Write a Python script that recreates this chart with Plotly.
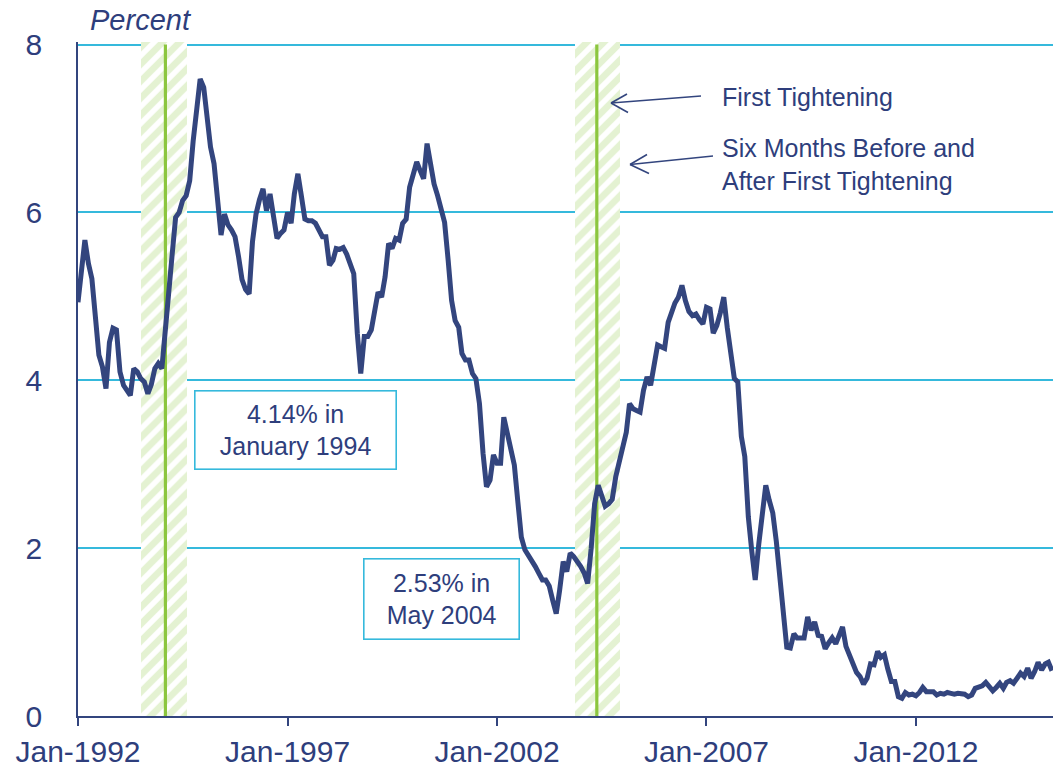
import pandas as pd
import plotly.graph_objects as go

# ---------------- data (monthly, percent) ----------------
start_month = "1992-01-01"
yield_pct = [
    # 1992
    4.93, 5.30, 5.67, 5.39, 5.21, 4.75, 4.30, 4.16, 3.90, 4.45, 4.62, 4.60,
    # 1993
    4.10, 3.94, 3.88, 3.82, 4.14, 4.10, 4.02, 3.98, 3.84, 3.95, 4.14, 4.20,
    # 1994
    4.14, 4.55, 5.03, 5.50, 5.94, 6.00, 6.14, 6.20, 6.38, 6.85, 7.25, 7.59,
    # 1995
    7.49, 7.10, 6.78, 6.58, 6.14, 5.73, 5.98, 5.85, 5.79, 5.71, 5.47, 5.20,
    # 1996
    5.08, 5.03, 5.65, 5.98, 6.15, 6.28, 6.02, 6.22, 5.95, 5.69, 5.75, 5.79,
    # 1997
    6.00, 5.87, 6.22, 6.46, 6.20, 5.92, 5.90, 5.90, 5.87, 5.78, 5.71, 5.71,
    # 1998
    5.37, 5.43, 5.57, 5.56, 5.58, 5.50, 5.40, 5.27, 4.56, 4.08, 4.52, 4.52,
    # 1999
    4.60, 4.80, 5.05, 4.99, 5.23, 5.63, 5.57, 5.69, 5.67, 5.87, 5.92, 6.30,
    # 2000
    6.45, 6.60, 6.50, 6.40, 6.82, 6.58, 6.34, 6.20, 6.04, 5.88, 5.43, 4.95,
    # 2001
    4.71, 4.63, 4.32, 4.24, 4.24, 4.08, 4.02, 3.72, 3.13, 2.73, 2.81, 3.11,
    # 2002
    3.01, 3.01, 3.56, 3.35, 3.20, 2.99, 2.56, 2.13, 1.98, 1.92, 1.85, 1.78,
    # 2003
    1.70, 1.62, 1.62, 1.55, 1.38, 1.22, 1.50, 1.84, 1.72, 1.94, 1.90, 1.85,
    # 2004
    1.78, 1.70, 1.58, 2.00, 2.53, 2.75, 2.60, 2.50, 2.53, 2.58, 2.85, 3.01,
    # 2005
    3.20, 3.38, 3.72, 3.66, 3.64, 3.62, 3.88, 4.04, 3.94, 4.20, 4.42, 4.40,
    # 2006
    4.38, 4.69, 4.80, 4.92, 4.99, 5.13, 4.95, 4.82, 4.77, 4.79, 4.72, 4.67,
    # 2007
    4.87, 4.85, 4.56, 4.65, 4.80, 4.99, 4.63, 4.28, 4.02, 3.98, 3.33, 3.09,
    # 2008
    2.37, 1.95, 1.62, 2.05, 2.45, 2.75, 2.57, 2.42, 2.08, 1.65, 1.25, 0.82,
    # 2009
    0.81, 0.98, 0.93, 0.93, 0.93, 1.18, 1.02, 1.12, 0.96, 0.95, 0.80, 0.87,
    # 2010
    0.93, 0.86, 0.96, 1.06, 0.83, 0.72, 0.62, 0.52, 0.47, 0.38, 0.45, 0.62,
    # 2011
    0.61, 0.77, 0.70, 0.73, 0.56, 0.41, 0.41, 0.23, 0.21, 0.28, 0.25, 0.26,
    # 2012
    0.24, 0.28, 0.34, 0.29, 0.29, 0.29, 0.25, 0.27, 0.26, 0.28, 0.27, 0.26,
    # 2013
    0.27, 0.27, 0.26, 0.23, 0.25, 0.33, 0.34, 0.36, 0.40, 0.34, 0.30, 0.34,
    # 2014
    0.39, 0.33, 0.40, 0.42, 0.39, 0.45, 0.51, 0.47, 0.57, 0.45, 0.53, 0.64,
    # 2015
    0.55, 0.62, 0.64, 0.54,
]
months = pd.date_range(start_month, periods=len(yield_pct), freq="MS")

tightening_dates = ["1994-02-01", "2004-05-20"]
band_starts = ["1993-07-01", "2003-11-10"]
band_ends = ["1994-08-07", "2004-12-05"]

tick_dates = ["1992-01-01", "1997-01-01", "2002-01-01", "2007-01-01", "2012-01-01"]
tick_labels = ["Jan-1992", "Jan-1997", "Jan-2002", "Jan-2007", "Jan-2012"]
y_ticks = [0, 2, 4, 6, 8]
y_top = 8
y_range = [0, 8.03]
x_range = ["1992-01-01", "2015-04-10"]

# ---------------- style ----------------
NAVY = "#33457E"
TEXT = "#2E3E7C"
GRID = "#35B9DC"
GREEN = "#8CC63F"
HATCH = "#C9E5A6"
FONT = "Liberation Sans, Arial, sans-serif"

W, H = 1053, 768
L, R, T, B = 78, 0, 42, 52
PW, PH = W - L - R, H - T - B


def px(x, y):
    return (x - L) / PW, (H - B - y) / PH


fig = go.Figure()

# hatched bands (six months before / after)
band_x = [pd.Timestamp(s) for s in band_starts]
band_w = [(pd.Timestamp(e) - pd.Timestamp(s)).total_seconds() * 1000
          for s, e in zip(band_starts, band_ends)]
fig.add_trace(go.Bar(
    x=band_x, y=[y_range[1]] * len(band_x), base=0, width=band_w, offset=0,
    marker=dict(color="white", line=dict(width=0),
                pattern=dict(shape="/", fgcolor=HATCH, bgcolor="white",
                             size=12, solidity=0.55)),
    hoverinfo="skip", showlegend=False))

# first tightening lines
for d in tightening_dates:
    fig.add_trace(go.Scatter(x=[d, d], y=[0, y_top], mode="lines",
                             line=dict(color=GREEN, width=3.2),
                             hoverinfo="skip", showlegend=False))

# yield line
fig.add_trace(go.Scatter(x=months, y=yield_pct, mode="lines",
                         line=dict(color=NAVY, width=5),
                         showlegend=False))

annotations = []
# Percent label
x0, y0 = px(88, 20)
annotations.append(dict(x=x0, y=y0, xref="paper", yref="paper", xanchor="left",
                        yanchor="middle", text="<i>Percent</i>", showarrow=False,
                        font=dict(family=FONT, size=29, color=TEXT)))
# boxes
bx, by = px(295.5, 430)
annotations.append(dict(x=bx, y=by, xref="paper", yref="paper", xanchor="center",
                        yanchor="middle", text="4.14% in<br>January 1994",
                        showarrow=False, align="center",
                        font=dict(family=FONT, size=25, color=TEXT),
                        bordercolor=GRID, borderwidth=1.6, borderpad=2,
                        bgcolor="white", width=196, height=73))
bx, by = px(441.5, 599)
annotations.append(dict(x=bx, y=by, xref="paper", yref="paper", xanchor="center",
                        yanchor="middle", text="2.53% in<br>May 2004",
                        showarrow=False, align="center",
                        font=dict(family=FONT, size=25, color=TEXT),
                        bordercolor=GRID, borderwidth=1.6, borderpad=2,
                        bgcolor="white", width=150, height=75))
# side labels
tx, ty = px(720, 97)
annotations.append(dict(x=tx, y=ty, xref="paper", yref="paper", xanchor="left",
                        yanchor="middle", text="First Tightening", showarrow=False,
                        font=dict(family=FONT, size=25, color=TEXT)))
tx, ty = px(720, 164)
annotations.append(dict(x=tx, y=ty, xref="paper", yref="paper", xanchor="left",
                        yanchor="middle", align="left",
                        text="Six Months Before and<br>After First Tightening",
                        showarrow=False,
                        font=dict(family=FONT, size=25, color=TEXT)))

# arrows (pixel geometry of the annotation pointers)
arrows = [
    ((701, 96), (611, 103), (627, 94), (628, 112.5)),
    ((713, 156), (630, 164.5), (647, 154.5), (649, 173.5)),
]
shapes = []
for tail, head, b1, b2 in arrows:
    for a, b in ((tail, head), (b1, head), (b2, head)):
        ax0, ay0 = px(*a)
        ax1, ay1 = px(*b)
        shapes.append(dict(type="line", xref="paper", yref="paper",
                           x0=ax0, y0=ay0, x1=ax1, y1=ay1,
                           line=dict(color=NAVY, width=1.6)))

fig.update_layout(
    width=W, height=H,
    margin=dict(l=L, r=R, t=T, b=B, pad=0),
    paper_bgcolor="white", plot_bgcolor="white",
    font=dict(family=FONT, color=TEXT),
    annotations=annotations, shapes=shapes,
    bargap=0,
)
fig.update_xaxes(
    type="date", range=x_range, tickvals=tick_dates, ticktext=tick_labels,
    showgrid=False, zeroline=False, showline=True, linecolor=NAVY, linewidth=2,
    ticks="outside", ticklen=8, tickwidth=2, tickcolor=NAVY,
    tickfont=dict(family=FONT, size=30, color=TEXT), automargin=False,
)
fig.update_yaxes(
    range=y_range, tickvals=y_ticks, showgrid=True, gridcolor=GRID, gridwidth=2,
    zeroline=False, showline=True, linecolor=NAVY, linewidth=1.5, ticks="",
    ticklabelstandoff=28,
    tickfont=dict(family=FONT, size=30, color=TEXT), automargin=False,
)

fig.write_html(
    "out.html",
    config={"displayModeBar": False},
    post_script="document.body.style.margin='0';document.body.style.overflow='hidden';",
)
